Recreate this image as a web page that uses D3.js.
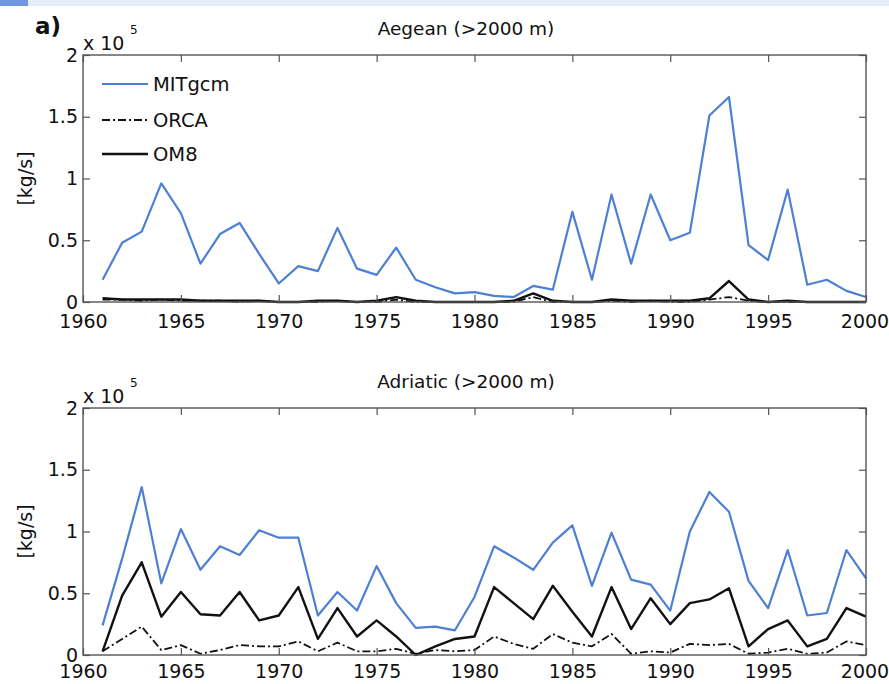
<!DOCTYPE html>
<html>
<head>
<meta charset="utf-8">
<script src="https://cdn.jsdelivr.net/npm/d3@7"></script>
<style>
  body { margin: 0; background: #fff; }
  text { font-family: "DejaVu Sans", sans-serif; fill: #111; }
</style>
</head>
<body>
<div id="chart"></div>
<script>
// years on the x axis
var years = [1961, 1962, 1963, 1964, 1965, 1966, 1967, 1968, 1969, 1970,
             1971, 1972, 1973, 1974, 1975, 1976, 1977, 1978, 1979, 1980,
             1981, 1982, 1983, 1984, 1985, 1986, 1987, 1988, 1989, 1990,
             1991, 1992, 1993, 1994, 1995, 1996, 1997, 1998, 1999, 2000];

// aegean (>2000 m), units of 1e5 kg/s
var aegeanMIT  = [0.18, 0.48, 0.57, 0.96, 0.72, 0.31, 0.55, 0.64, 0.39, 0.15,
                  0.29, 0.25, 0.60, 0.27, 0.22, 0.44, 0.18, 0.12, 0.07, 0.08,
                  0.05, 0.04, 0.13, 0.10, 0.73, 0.18, 0.87, 0.31, 0.87, 0.50,
                  0.56, 1.51, 1.66, 0.46, 0.34, 0.91, 0.14, 0.18, 0.09, 0.04];
var aegeanORCA = [0.02, 0.02, 0.01, 0.02, 0.01, 0.01, 0.01, 0.00, 0.01, 0.00,
                  0.00, 0.00, 0.01, 0.00, 0.00, 0.02, 0.00, 0.00, 0.00, 0.00,
                  0.00, 0.00, 0.04, 0.00, 0.00, 0.00, 0.01, 0.00, 0.01, 0.00,
                  0.00, 0.02, 0.04, 0.01, 0.00, 0.00, 0.00, 0.00, 0.00, 0.00];
var aegeanOM8  = [0.03, 0.02, 0.02, 0.02, 0.02, 0.01, 0.01, 0.01, 0.01, 0.00,
                  0.00, 0.01, 0.01, 0.00, 0.01, 0.04, 0.01, 0.00, 0.00, 0.00,
                  0.00, 0.01, 0.07, 0.01, 0.00, 0.00, 0.02, 0.01, 0.01, 0.01,
                  0.01, 0.03, 0.17, 0.02, 0.00, 0.01, 0.00, 0.00, 0.00, 0.00];

// adriatic (>2000 m)
var adriaticMIT  = [0.24, 0.78, 1.36, 0.58, 1.02, 0.69, 0.88, 0.81, 1.01, 0.95,
                    0.95, 0.32, 0.51, 0.36, 0.72, 0.42, 0.22, 0.23, 0.20, 0.47,
                    0.88, 0.79, 0.69, 0.91, 1.05, 0.56, 0.99, 0.61, 0.57, 0.36,
                    1.00, 1.32, 1.16, 0.60, 0.38, 0.85, 0.32, 0.34, 0.85, 0.62];
var adriaticORCA = [0.03, 0.13, 0.23, 0.04, 0.08, 0.01, 0.04, 0.08, 0.07, 0.07,
                    0.11, 0.03, 0.10, 0.03, 0.03, 0.05, 0.01, 0.04, 0.03, 0.04,
                    0.15, 0.09, 0.05, 0.17, 0.10, 0.07, 0.17, 0.01, 0.03, 0.02,
                    0.09, 0.08, 0.09, 0.01, 0.02, 0.05, 0.01, 0.02, 0.11, 0.08];
var adriaticOM8  = [0.03, 0.48, 0.75, 0.31, 0.51, 0.33, 0.32, 0.51, 0.28, 0.32,
                    0.55, 0.13, 0.38, 0.15, 0.28, 0.15, 0.00, 0.07, 0.13, 0.15,
                    0.55, 0.42, 0.29, 0.56, 0.35, 0.15, 0.55, 0.21, 0.46, 0.25,
                    0.42, 0.45, 0.54, 0.07, 0.21, 0.28, 0.07, 0.13, 0.38, 0.31];

var xTicks = [1960, 1965, 1970, 1975, 1980, 1985, 1990, 1995, 2000];
var yTicks = [0, 0.5, 1, 1.5, 2];
var seriesNames = ["MITgcm", "ORCA", "OM8"];

var svg = d3.select("#chart")
            .append("svg")
                .attr("width", 889)
                .attr("height", 684);

// the bluish strip along the top of the page
svg.append("rect").attr("x", 0).attr("y", 0).attr("width", 889).attr("height", 6).attr("fill", "#e4eefb");
svg.append("rect").attr("x", 0).attr("y", 0).attr("width", 28).attr("height", 6).attr("fill", "#7097e0");

svg.append("text")
    .attr("x", 35).attr("y", 34)
    .style("font-size", "23px")
    .style("font-weight", "bold")
    .text("a)");

var width = 783, height = 247;
var x = d3.scaleLinear().domain([1960, 2000]).range([0, width]);
var y = d3.scaleLinear().domain([0, 2]).range([height, 0]);

var styles = [
    {color: "#4d80d5", width: 2.2, dash: null},
    {color: "#111", width: 1.8, dash: "8,3,2,3"},
    {color: "#111", width: 2.4, dash: null}
];

function drawPanel(top, title, series, legend, labelPad) {
    var g = svg.append("g").attr("transform", "translate(83," + top + ")");

    var line = d3.line()
        .x(function(d, i) { return x(years[i]); })
        .y(function(d) { return y(d); });

    series.forEach(function(s, k) {
        g.append("path")
            .datum(s)
            .attr("d", line)
            .attr("fill", "none")
            .attr("stroke", styles[k].color)
            .attr("stroke-width", styles[k].width)
            .attr("stroke-dasharray", styles[k].dash)
            .attr("stroke-linejoin", "round");
    });

    // ticks pointing inwards on every side, labels only on bottom and left
    var bottom = g.append("g").attr("transform", "translate(0," + height + ")")
        .call(d3.axisBottom(x).tickValues(xTicks).tickFormat(d3.format("d"))
              .tickSizeInner(-7).tickSizeOuter(0).tickPadding(labelPad));
    var topAx = g.append("g")
        .call(d3.axisTop(x).tickValues(xTicks).tickFormat("")
              .tickSizeInner(-7).tickSizeOuter(0));
    var left = g.append("g")
        .call(d3.axisLeft(y).tickValues(yTicks).tickFormat(d3.format("~g"))
              .tickSizeInner(-7).tickSizeOuter(0).tickPadding(5));
    var right = g.append("g").attr("transform", "translate(" + width + ",0)")
        .call(d3.axisRight(y).tickValues(yTicks).tickFormat("")
              .tickSizeInner(-7).tickSizeOuter(0));

    [bottom, topAx, left, right].forEach(function(a) {
        a.select(".domain").remove();
        a.selectAll("line").attr("stroke", "#555").attr("stroke-width", 1.2);
        a.selectAll("text").style("font-size", "19px").attr("fill", "#111")
            .style("font-family", "DejaVu Sans, sans-serif");
    });
    // keep the last year label inside the page
    bottom.selectAll("text").filter(function(d) { return d === 2000; }).attr("dx", -1.5);

    g.append("rect")
        .attr("width", width).attr("height", height)
        .attr("fill", "none")
        .attr("stroke", "#555")
        .attr("stroke-width", 1.4);

    g.append("text")
        .attr("x", 383).attr("y", -20)
        .attr("text-anchor", "middle")
        .style("font-size", "18.5px")
        .text(title);

    // the matlab exponent label
    g.append("text").attr("x", 0).attr("y", -5).style("font-size", "19px").text("x 10");
    g.append("text").attr("x", 47).attr("y", -21).style("font-size", "12px").text("5");

    g.append("text")
        .attr("transform", "translate(-51," + (height / 2) + ") rotate(-90)")
        .attr("text-anchor", "middle")
        .style("font-size", "19px")
        .text("[kg/s]");

    if (legend) {
        var rows = [29, 65, 99];
        seriesNames.forEach(function(name, k) {
            g.append("line")
                .attr("x1", 19).attr("x2", 65)
                .attr("y1", rows[k]).attr("y2", rows[k])
                .attr("stroke", styles[k].color)
                .attr("stroke-width", styles[k].width)
                .attr("stroke-dasharray", styles[k].dash);
            g.append("text")
                .attr("x", 70).attr("y", rows[k] + 7)
                .style("font-size", "19.5px")
                .text(name);
        });
    }
}

drawPanel(55, "Aegean (>2000 m)", [aegeanMIT, aegeanORCA, aegeanOM8], true, 13);
drawPanel(408, "Adriatic (>2000 m)", [adriaticMIT, adriaticORCA, adriaticOM8], false, 10);
</script>
</body>
</html>
